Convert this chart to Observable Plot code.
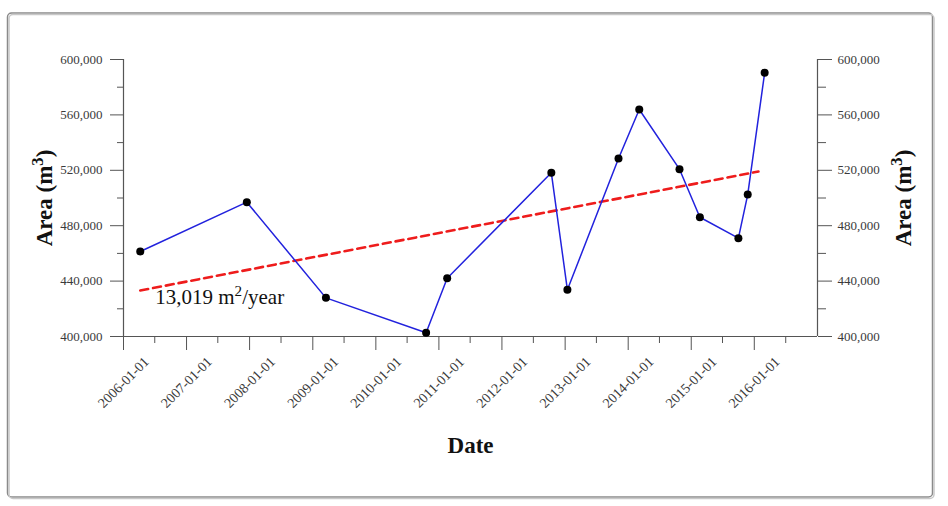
<!DOCTYPE html>
<html>
<head>
<meta charset="utf-8">
<script src="https://cdn.jsdelivr.net/npm/d3@7"></script>
<script src="https://cdn.jsdelivr.net/npm/@observablehq/plot@0.6"></script>
<style>
  html, body { margin: 0; padding: 0; background: #fff; }
  #chart { width: 948px; height: 506px; }
</style>
</head>
<body>
<div id="chart"></div>
<script>
// Observed dates and areas
const dates = ["2006-04-08","2007-12-16","2009-03-18","2010-10-19","2011-02-18","2012-10-13","2013-01-14","2013-11-06","2014-03-06","2014-10-25","2015-02-20","2015-10-01","2015-11-24","2016-03-01"];
const areas = [461400, 497000, 427900, 402700, 442100, 518200, 433700, 528500, 563900, 520800, 486100, 471000, 502500, 590400];

// Linear trend endpoints
const trendDates = ["2006-04-08", "2016-01-25"];
const trendValues = [433200, 519100];

// Trend annotation
const trendLabel = "13,019 m²/year";
const trendLabelDate = "2006-07-04";
const trendLabelValue = 428000;

// Axis ticks
const xDomain = ["2006-01-01", "2017-01-01"];
const xTickYears = ["2006-01-01","2007-01-01","2008-01-01","2009-01-01","2010-01-01","2011-01-01","2012-01-01","2013-01-01","2014-01-01","2015-01-01","2016-01-01"];
const xMinorTicks = ["2006-07-01","2007-07-01","2008-07-01","2009-07-01","2010-07-01","2011-07-01","2012-07-01","2013-07-01","2014-07-01","2015-07-01","2016-07-01"];
const yMajorTicks = [400000, 440000, 480000, 520000, 560000, 600000];
const yMinorTicks = [420000, 460000, 500000, 540000, 580000];
const yDomain = [400000, 600000];

const yTitle = "Area (m³)";
const xTitle = "Date";

const parse = d3.utcParse("%Y-%m-%d");
const series = dates.map((d, i) => ({date: parse(d), area: areas[i]}));
const trend = trendDates.map((d, i) => ({date: parse(d), area: trendValues[i]}));
const xMajor = xTickYears.map(parse);
const xMinor = xMinorTicks.map(parse);
const xDom = xDomain.map(parse);
const fmt = d3.format(",");

const serif = "Liberation Serif, Times New Roman, serif";
const axisColor = "#555";
const labelColor = "#3a3a3a";

const chart = Plot.plot({
  width: 948,
  height: 506,
  marginLeft: 123,
  marginRight: 131,
  marginTop: 59,
  marginBottom: 170,
  style: {fontFamily: serif, background: "transparent"},
  x: {type: "utc", domain: xDom},
  y: {domain: yDomain},
  marks: [
    // axis lines
    Plot.ruleX(xDom, {stroke: axisColor, strokeWidth: 1.2}),
    Plot.ruleY([yDomain[0]], {stroke: axisColor, strokeWidth: 1.2}),
    // left axis
    Plot.axisY({anchor: "left", ticks: yMajorTicks, tickSize: 13, tickPadding: 8, tickFormat: fmt, fontSize: 13, color: labelColor, stroke: axisColor, label: null}),
    Plot.axisY({anchor: "left", ticks: yMinorTicks, tickSize: 6, text: null, stroke: axisColor, label: null}),
    // right axis
    Plot.axisY({anchor: "right", ticks: yMajorTicks, tickSize: 14, tickPadding: 6, tickFormat: fmt, fontSize: 13, color: labelColor, stroke: axisColor, label: null}),
    Plot.axisY({anchor: "right", ticks: yMinorTicks, tickSize: 8, text: null, stroke: axisColor, label: null}),
    // bottom axis
    Plot.axisX({anchor: "bottom", ticks: xMajor, tickSize: 14, text: null, stroke: axisColor, label: null}),
    Plot.axisX({anchor: "bottom", ticks: xMinor, tickSize: 7, text: null, stroke: axisColor, label: null}),
    Plot.text(xMajor, {x: d => d, y: yDomain[0], text: d3.utcFormat("%Y-%m-%d"), rotate: -45, dy: 46, textAnchor: "middle", lineAnchor: "middle", fontSize: 14, fill: labelColor}),
    // trend
    Plot.line(trend, {x: "date", y: "area", stroke: "#ee1c1c", strokeWidth: 2.6, strokeDasharray: "8,5"}),
    Plot.text([trendLabel], {x: () => parse(trendLabelDate), y: () => trendLabelValue, textAnchor: "start", lineAnchor: "middle", fontSize: 21, fill: "#111"}),
    // series
    Plot.line(series, {x: "date", y: "area", stroke: "#2222dd", strokeWidth: 1.5}),
    Plot.dot(series, {x: "date", y: "area", r: 4, fill: "#000", stroke: "none"}),
    // titles
    Plot.text([yTitle], {frameAnchor: "left", dx: -79, rotate: -90, textAnchor: "middle", lineAnchor: "middle", fontSize: 23, fontWeight: "bold", fill: "#111"}),
    Plot.text([yTitle], {frameAnchor: "right", dx: 86, rotate: -90, textAnchor: "middle", lineAnchor: "middle", fontSize: 23, fontWeight: "bold", fill: "#111"}),
    Plot.text([xTitle], {frameAnchor: "bottom", dy: 109, textAnchor: "middle", lineAnchor: "middle", fontSize: 23, fontWeight: "bold", fill: "#111"})
  ]
});

const svg = d3.select(chart);

// render ² and ³ as real superscripts
svg.selectAll("text").each(function () {
  if (this.querySelector("tspan")) return;
  const t = this.textContent;
  const m = t.match(/[²³]/);
  if (!m) return;
  const sup = m[0] === "²" ? "2" : "3";
  const i = t.indexOf(m[0]);
  const sel = d3.select(this);
  sel.text(null);
  sel.append("tspan").text(t.slice(0, i));
  sel.append("tspan").attr("baseline-shift", "super").attr("font-size", "72%").text(sup);
  const rest = t.slice(i + 1);
  if (rest) sel.append("tspan").attr("baseline-shift", "0").text(rest);
});

// outer rounded border
svg.insert("rect", ":first-child")
  .attr("x", 9).attr("y", 14.5).attr("width", 925).attr("height", 484)
  .attr("rx", 4).attr("fill", "none").attr("stroke", "#c8c8c8").attr("stroke-width", 1.5);
svg.insert("rect", ":first-child")
  .attr("x", 7.5).attr("y", 13).attr("width", 925).attr("height", 484)
  .attr("rx", 4).attr("fill", "#fff").attr("stroke", "#8a8a8a").attr("stroke-width", 1.5);

document.getElementById("chart").appendChild(chart);
</script>
</body>
</html>
